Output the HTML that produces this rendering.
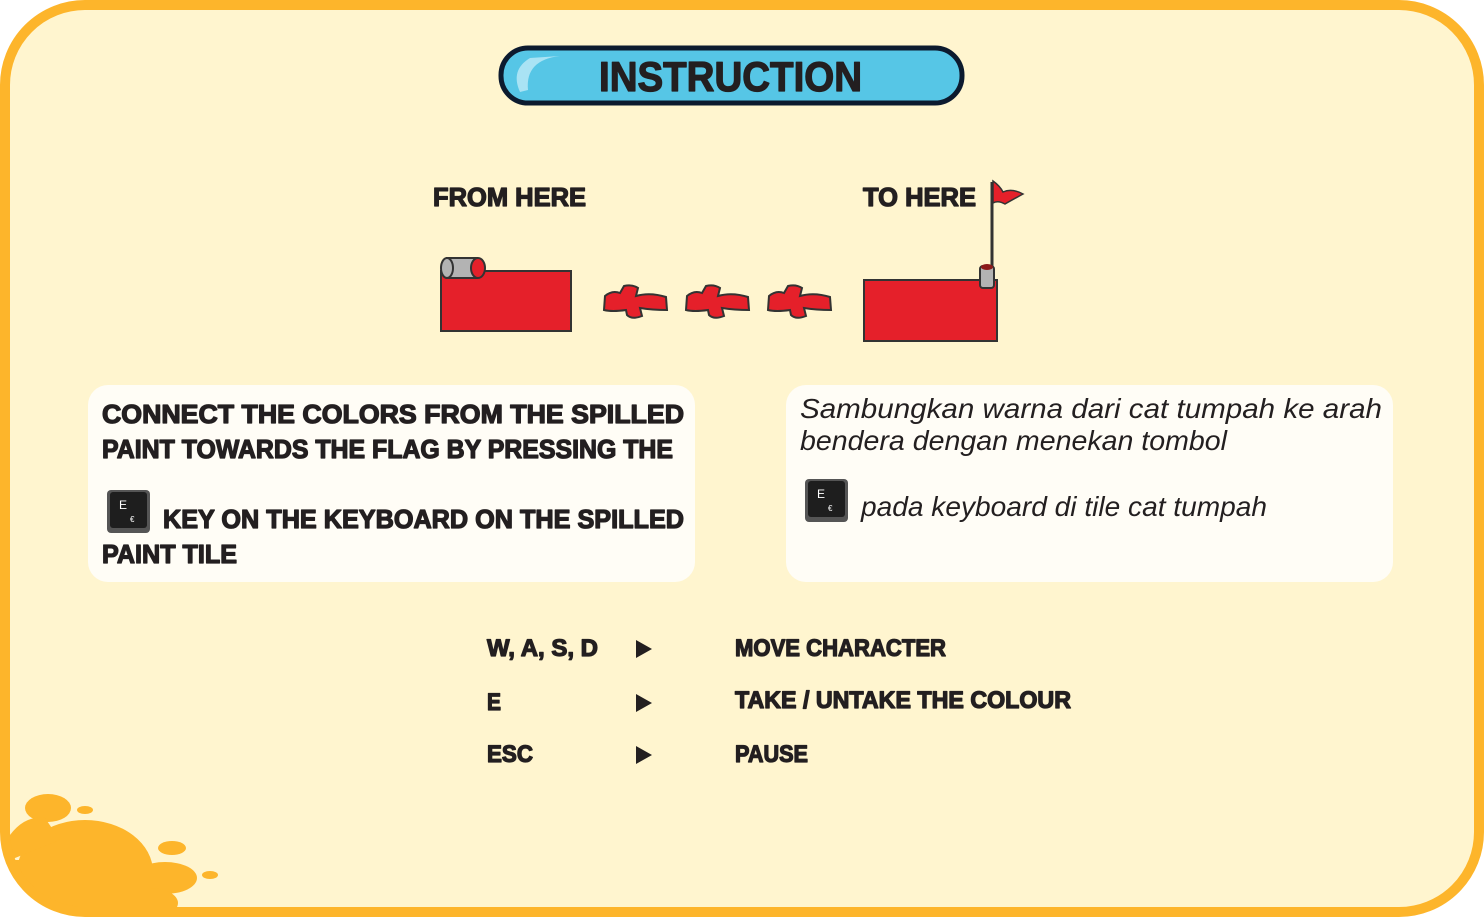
<!DOCTYPE html>
<html><head><meta charset="utf-8"><style>
html,body{margin:0;padding:0;background:#fff;}
svg{display:block;}
.b{font-family:"Liberation Sans",sans-serif;font-weight:bold;fill:#231f20;stroke:#231f20;stroke-width:1.3;stroke-linejoin:round;}
.i{font-family:"Liberation Sans",sans-serif;font-style:italic;fill:#231f20;}
</style></head><body>
<svg width="1484" height="917" viewBox="0 0 1484 917">
<defs><clipPath id="fr"><rect x="5" y="5" width="1474" height="907" rx="80"/></clipPath></defs>
<g>
<rect x="5" y="5" width="1474" height="907" rx="80" fill="#fff5cf"/>
<g clip-path="url(#fr)" fill="#fdb52b">
<ellipse cx="48" cy="808" rx="23" ry="14"/>
<ellipse cx="85" cy="810" rx="8" ry="4"/>
<ellipse cx="85" cy="872" rx="68" ry="52"/>
<path d="M10 835 Q25 815 45 818 L60 840 L10 860 Z"/>
<ellipse cx="165" cy="878" rx="32" ry="16"/>
<ellipse cx="150" cy="903" rx="28" ry="15"/>
<rect x="0" y="860" width="150" height="60"/>
<ellipse cx="172" cy="848" rx="14" ry="7"/>
<ellipse cx="210" cy="875" rx="8" ry="4"/>
</g>
<rect x="5" y="5" width="1474" height="907" rx="80" fill="none" stroke="#fdb52b" stroke-width="10"/>
</g>
<g>
<rect x="501" y="48" width="461" height="55" rx="27" fill="#56c6e6" stroke="#0c1a2e" stroke-width="5"/>
<path d="M520 92 Q510 70 530 58 L560 56 Q525 60 528 90 Z" fill="#a9e3f4"/>
<text class="b" x="599" y="91" font-size="42" textLength="263" lengthAdjust="spacingAndGlyphs">INSTRUCTION</text>
</g>
<text class="b" x="433" y="206" font-size="26" textLength="153" lengthAdjust="spacingAndGlyphs">FROM HERE</text>
<text class="b" x="863" y="206" font-size="26" textLength="113" lengthAdjust="spacingAndGlyphs">TO HERE</text>
<g>
<rect x="441" y="271" width="130" height="60" fill="#e5202a" stroke="#333" stroke-width="2"/>
<rect x="447" y="258" width="30" height="20" fill="#b3b3b3" stroke="#333" stroke-width="2"/>
<ellipse cx="447" cy="268" rx="6" ry="10" fill="#b3b3b3" stroke="#333" stroke-width="2"/>
<ellipse cx="478" cy="268" rx="7" ry="10" fill="#e5202a" stroke="#333" stroke-width="2"/>
</g>
<g fill="#e5202a" stroke="#333" stroke-width="2">
<path d="M605 296 Q612 290 620 293 L624 286 Q632 284 638 288 L636 296 Q650 292 666 297 L667 310 Q652 310 640 308 L642 316 Q632 320 627 315 L626 310 Q612 312 604 310 Z"/>
<path d="M687 296 Q694 290 702 293 L706 286 Q714 284 720 288 L718 296 Q732 292 748 297 L749 310 Q734 310 722 308 L724 316 Q714 320 709 315 L708 310 Q694 312 686 310 Z"/>
<path d="M769 296 Q776 290 784 293 L788 286 Q796 284 802 288 L800 296 Q814 292 830 297 L831 310 Q816 310 804 308 L806 316 Q796 320 791 315 L790 310 Q776 312 768 310 Z"/>
</g>
<g>
<rect x="864" y="280" width="133" height="61" fill="#e5202a" stroke="#333" stroke-width="2"/>
<line x1="992" y1="182" x2="992" y2="272" stroke="#333" stroke-width="3"/>
<path d="M993 181 Q1000 186 1003 192 Q1012 188 1023 194 Q1012 200 1005 204 Q998 200 993 203 Z" fill="#e5202a" stroke="#333" stroke-width="1.5"/>
<rect x="980" y="266" width="14" height="22" rx="3" fill="#b3b3b3" stroke="#333" stroke-width="2"/>
<ellipse cx="987" cy="267" rx="6" ry="3" fill="#8b1a1a"/>
</g>
<g>
<rect x="88" y="385" width="607" height="197" rx="20" fill="#fffdf6"/>
<text class="b" x="102" y="423" font-size="26" textLength="582" lengthAdjust="spacingAndGlyphs">CONNECT  THE  COLORS  FROM  THE  SPILLED</text>
<text class="b" x="102" y="458" font-size="26" textLength="571" lengthAdjust="spacingAndGlyphs">PAINT TOWARDS THE FLAG BY PRESSING THE</text>
<g>
<rect x="107" y="490" width="43" height="43" rx="4" fill="#555"/>
<rect x="110" y="492" width="37" height="36" rx="3" fill="#1e1e1e"/>
<text x="119" y="509" font-family="Liberation Sans,sans-serif" font-size="12" fill="#fff">E</text>
<text x="130" y="522" font-family="Liberation Sans,sans-serif" font-size="8" fill="#fff">€</text>
</g>
<text class="b" x="163" y="528" font-size="26" textLength="521" lengthAdjust="spacingAndGlyphs">KEY ON THE KEYBOARD ON THE SPILLED</text>
<text class="b" x="102" y="563" font-size="26" textLength="135" lengthAdjust="spacingAndGlyphs">PAINT TILE</text>
</g>
<g>
<rect x="786" y="385" width="607" height="197" rx="20" fill="#fffdf6"/>
<text class="i" x="800" y="418" font-size="28" textLength="582" lengthAdjust="spacingAndGlyphs">Sambungkan warna dari cat tumpah ke arah</text>
<text class="i" x="800" y="450" font-size="28" textLength="427" lengthAdjust="spacingAndGlyphs">bendera dengan menekan tombol</text>
<g>
<rect x="805" y="479" width="43" height="43" rx="4" fill="#555"/>
<rect x="808" y="481" width="37" height="36" rx="3" fill="#1e1e1e"/>
<text x="817" y="498" font-family="Liberation Sans,sans-serif" font-size="12" fill="#fff">E</text>
<text x="828" y="511" font-family="Liberation Sans,sans-serif" font-size="8" fill="#fff">€</text>
</g>
<text class="i" x="861" y="516" font-size="28" textLength="406" lengthAdjust="spacingAndGlyphs">pada keyboard di tile cat tumpah</text>
</g>
<g>
<text class="b" x="487" y="656" font-size="24" textLength="111" lengthAdjust="spacingAndGlyphs">W, A, S, D</text>
<text class="b" x="487" y="710" font-size="24" textLength="14" lengthAdjust="spacingAndGlyphs">E</text>
<text class="b" x="487" y="762" font-size="24" textLength="46" lengthAdjust="spacingAndGlyphs">ESC</text>
<path d="M636 640 L652 649 L636 658 Z M636 694 L652 703 L636 712 Z M636 746 L652 755 L636 764 Z" fill="#231f20"/>
<text class="b" x="735" y="656" font-size="24" textLength="211" lengthAdjust="spacingAndGlyphs">MOVE CHARACTER</text>
<text class="b" x="735" y="708" font-size="24" textLength="336" lengthAdjust="spacingAndGlyphs">TAKE / UNTAKE THE COLOUR</text>
<text class="b" x="735" y="762" font-size="24" textLength="73" lengthAdjust="spacingAndGlyphs">PAUSE</text>
</g>
</svg>
</body></html>
